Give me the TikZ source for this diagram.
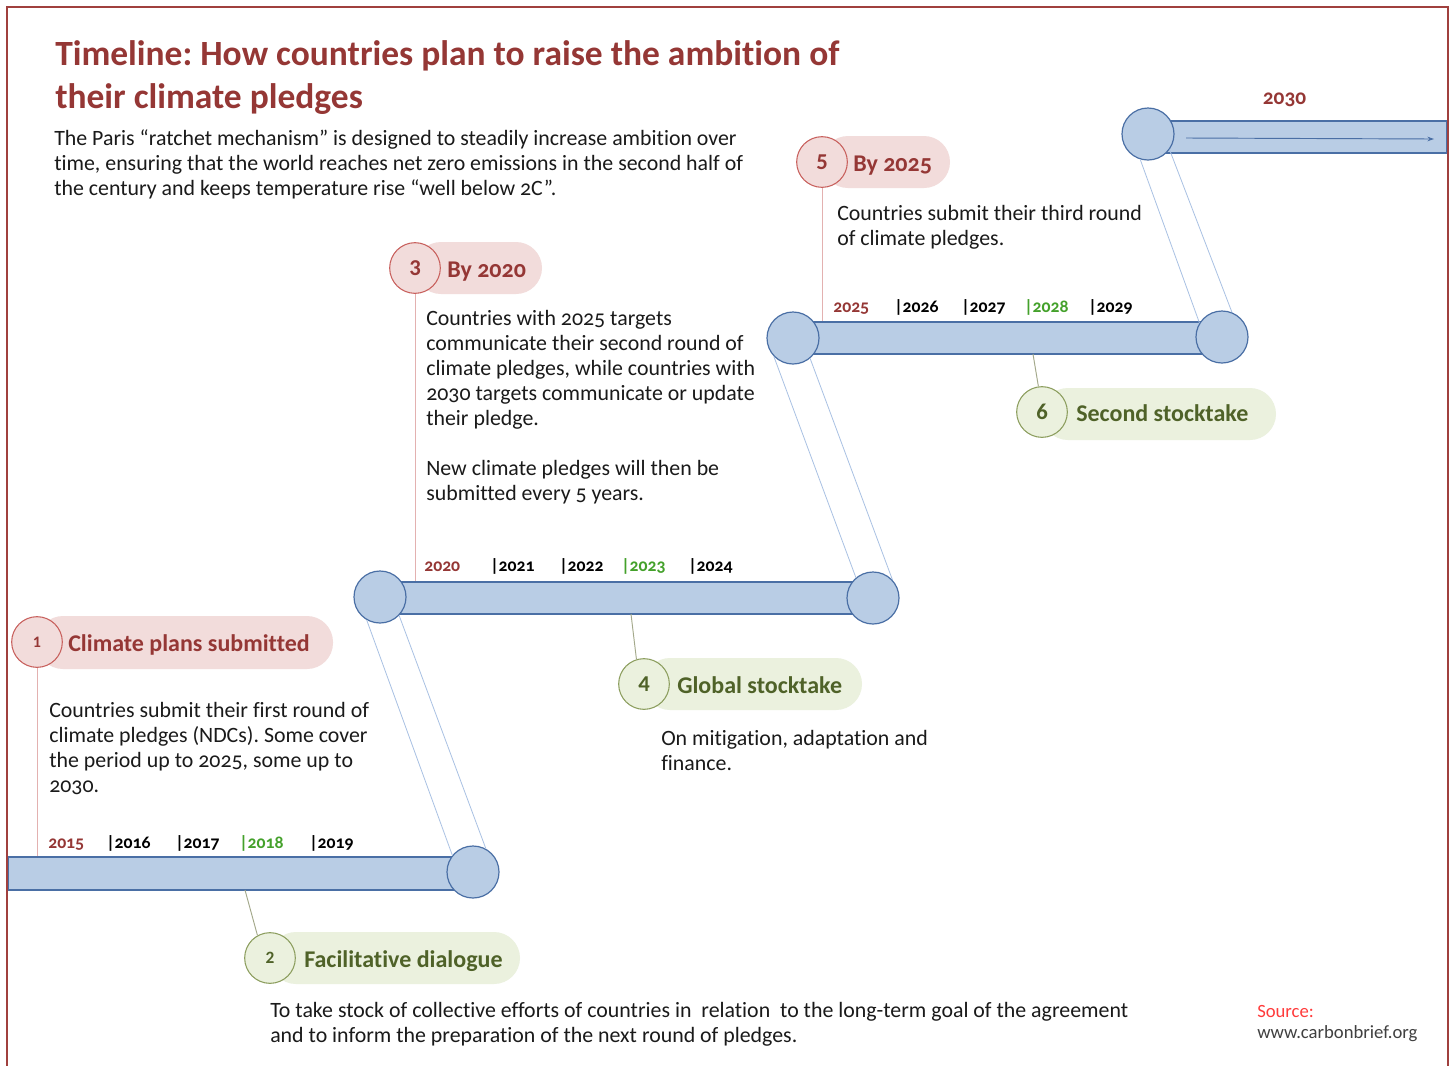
\documentclass[tikz,border=0pt]{standalone}
\usepackage{fontspec}
\setmainfont{Carlito}[Numbers=OldStyle,Ligatures=NoCommon]
\usetikzlibrary{fit,arrows.meta}
\definecolor{titlered}{HTML}{953735}
\definecolor{framered}{HTML}{A0403E}
\definecolor{pinkfill}{HTML}{F2DCDB}
\definecolor{redcircle}{HTML}{C8605D}
\definecolor{redlink}{HTML}{E3B1B0}
\definecolor{barfill}{HTML}{B9CDE5}
\definecolor{barline}{HTML}{4A6FA5}
\definecolor{linkblue}{HTML}{A9C1E3}
\definecolor{greenfill}{HTML}{EBF1DE}
\definecolor{greenline}{HTML}{8C9E5E}
\definecolor{greentext}{HTML}{4F6228}
\definecolor{greenlink}{HTML}{A3A88A}
\definecolor{yeargreen}{HTML}{44A12B}
\definecolor{sourcered}{HTML}{FF3B3B}
\definecolor{bodytext}{HTML}{1A1A1A}
\newcommand\bodyfont{\fontsize{16.4}{18.75}\selectfont}
\newcommand\yearfont{\fontsize{13.3}{13.3}\selectfont\bfseries}
\newcommand\numfont[1]{\fontsize{#1}{#1}\selectfont\bfseries\addfontfeatures{Numbers=Lining}}
\frenchspacing
\begin{document}
\begin{tikzpicture}[x=0.75pt,y=-0.75pt,
  bar/.style={draw=barline, fill=barfill, line width=1.1pt, inner sep=0pt},
  bcirc/.style={circle, draw=barline, fill=barfill, line width=0.9pt, minimum size=39pt, inner sep=0pt},
  redbadge/.style={circle, draw=redcircle, fill=pinkfill, line width=0.8pt, minimum size=38pt, inner sep=0pt, text=titlered, font=\numfont{17}},
  greenbadge/.style={circle, draw=greenline, fill=greenfill, line width=0.8pt, minimum size=38pt, inner sep=0pt, text=greentext, font=\numfont{17}},
  redpill/.style={fill=pinkfill, rounded corners=19.5pt},
  greenpill/.style={fill=greenfill, rounded corners=19.5pt},
  redlabel/.style={anchor=base west, inner sep=0pt, text=titlered, font=\fontsize{18}{18}\selectfont\bfseries},
  greenlabel/.style={anchor=base west, inner sep=0pt, text=greentext, font=\fontsize{18}{18}\selectfont\bfseries},
  bodynode/.style={anchor=base west, inner sep=0pt, text=bodytext, font=\bodyfont},
  yearnode/.style={anchor=base west, inner sep=0pt, font=\yearfont},
  vlinkred/.style={draw=redlink, line width=0.7pt},
  vlinkgreen/.style={draw=greenlink, line width=0.7pt},
  slant/.style={draw=linkblue, line width=0.6pt},
  frameline/.style={draw=framered, line width=1.5pt}
]
\useasboundingbox (0,0) rectangle (1453,1065);
\fill[white] (0,0) rectangle (1453,1065);

% title and intro
\node[anchor=base west, inner sep=0pt, text=titlered,
  font=\fontsize{26.6}{32.25}\selectfont\bfseries] (title) at (55,65)
  {\begin{tabular}[t]{@{}l@{}}Timeline: How countries plan to raise the ambition of\\their climate pledges\end{tabular}};
\node[bodynode] (intro) at (54,145) {\begin{tabular}[t]{@{}l@{}}The Paris “ratchet mechanism” is designed to steadily increase ambition over\\time, ensuring that the world reaches net zero emissions in the second half of\\the century and keeps temperature rise “well below 2C”.\end{tabular}};

% pills
\fill[redpill] (37,616) rectangle (333,669);
\fill[redpill] (415,242) rectangle (542,294);
\fill[redpill] (822,136) rectangle (950,188);
\fill[greenpill] (270,932) rectangle (520,984);
\fill[greenpill] (644,658) rectangle (862,710);
\fill[greenpill] (1042,388) rectangle (1276,440);

% bars
\node[bar, fit={(8,857) (473,890)}] (bar1) {};
\node[bar, fit={(380,582) (873,614)}] (bar2) {};
\node[bar, fit={(793,322) (1222,354)}] (bar3) {};
\node[bar, fit={(1148,121) (1447,153)}] (bar4) {};

% bar circles
\node[bcirc] (c1R) at (473,872) {};
\node[bcirc] (c2L) at (380,597) {};
\node[bcirc] (c2R) at (873,598) {};
\node[bcirc] (c3L) at (793,338) {};
\node[bcirc] (c3R) at (1222,337) {};
\node[bcirc] (c4L) at (1148,134) {};

% slanted links
\draw[slant] (c2L.240) -- (c1R.141);
\draw[slant] (c2L.316) -- (c1R.61);
\draw[slant] (c3L.224) -- (c2R.130);
\draw[slant] (c3L.310) -- (c2R.43);
\draw[slant] (c4L.253) -- (c3R.148);
\draw[slant] (c4L.324) -- (c3R.68);

% 2030 arrow
\coordinate (a30s) at (1186,138);
\coordinate (a30e) at (1434,139);
\draw[draw=barline, line width=0.7pt, -{Stealth[length=5pt,width=3.5pt]}] (a30s) -- (a30e);
\node[anchor=base, inner sep=0pt, text=titlered, font=\fontsize{16}{16}\selectfont\bfseries] (y2030) at (1284.5,104) {2030};

% frame
\draw[frameline] (7,1075) -- (7,7) -- (1448,7) -- (1448,1075);

% badges
\node[redbadge, font=\numfont{12}] (b1) at (37,642) {1};
\node[redbadge] (b3) at (415,268) {3};
\node[redbadge] (b5) at (822,162) {5};
\node[greenbadge, font=\numfont{13}] (b2) at (270,958) {2};
\node[greenbadge] (b4) at (644,684) {4};
\node[greenbadge] (b6) at (1042,412) {6};

\node[redlabel] (l1) at (68,651) {Climate plans submitted};
\node[redlabel] (l3) at (447,277) {By 2020};
\node[redlabel] (l5) at (853,171) {By 2025};
\node[greenlabel] (l2) at (304,967) {Facilitative dialogue};
\node[greenlabel] (l4) at (677,693) {Global stocktake};
\node[greenlabel] (l6) at (1076,421) {Second stocktake};

% vertical connectors
\draw[vlinkred] (b1.south) -- (b1.south |- bar1.north);
\draw[vlinkred] (b3.south) -- (b3.south |- bar2.north);
\draw[vlinkred] (b5.south) -- (b5.south |- bar3.north);
\coordinate (g2) at (245,890);
\coordinate (g4) at (631,614);
\coordinate (g6) at (1033,354);
\draw[vlinkgreen] (g2) -- (b2.119);
\draw[vlinkgreen] (g4) -- (b4.107);
\draw[vlinkgreen] (g6) -- (b6.98);

% year labels
\node[yearnode, text=titlered] (y2015) at (48,848) {2015};
\node[yearnode] (y2016) at (106,848) {|2016};
\node[yearnode] (y2017) at (175,848) {|2017};
\node[yearnode, text=yeargreen] (y2018) at (239,848) {|2018};
\node[yearnode] (y2019) at (309,848) {|2019};
\node[yearnode, text=titlered] (y2020) at (424,571) {2020};
\node[yearnode] (y2021) at (490,571) {|2021};
\node[yearnode] (y2022) at (559,571) {|2022};
\node[yearnode, text=yeargreen] (y2023) at (621,571) {|2023};
\node[yearnode] (y2024) at (688,571) {|2024};
\node[yearnode, text=titlered] (y2025) at (833,312) {2025};
\node[yearnode] (y2026) at (894,312) {|2026};
\node[yearnode] (y2027) at (961,312) {|2027};
\node[yearnode, text=yeargreen] (y2028) at (1024,312) {|2028};
\node[yearnode] (y2029) at (1088,312) {|2029};

% body texts
\node[bodynode] (t1) at (49,717) {\begin{tabular}[t]{@{}l@{}}Countries submit their first round of\\climate pledges (NDCs). Some cover\\the period up to 2025, some up to\\2030.\end{tabular}};
\node[bodynode] (t3) at (426,325) {\begin{tabular}[t]{@{}l@{}}Countries with 2025 targets\\communicate their second round of\\climate pledges, while countries with\\2030 targets communicate or update\\their pledge.\\ \\New climate pledges will then be\\submitted every 5 years.\end{tabular}};
\node[bodynode] (t5) at (837,220) {\begin{tabular}[t]{@{}l@{}}Countries submit their third round\\of climate pledges.\end{tabular}};
\node[bodynode] (t4) at (661,745) {\begin{tabular}[t]{@{}l@{}}On mitigation, adaptation and\\finance.\end{tabular}};
\node[bodynode] (t2) at (270,1017) {\begin{tabular}[t]{@{}l@{}}To take stock of collective efforts of countries in\ \ relation\ \ to the long-term goal of the agreement\\and to inform the preparation of the next round of pledges.\end{tabular}};

% source
\node[anchor=base west, inner sep=0pt, font=\fontsize{14}{16}\selectfont] (src) at (1257,1017) {\begin{tabular}[t]{@{}l@{}}\textcolor{sourcered}{Source:}\\\textcolor{black!75}{www.carbonbrief.org}\end{tabular}};
\end{tikzpicture}
\end{document}
